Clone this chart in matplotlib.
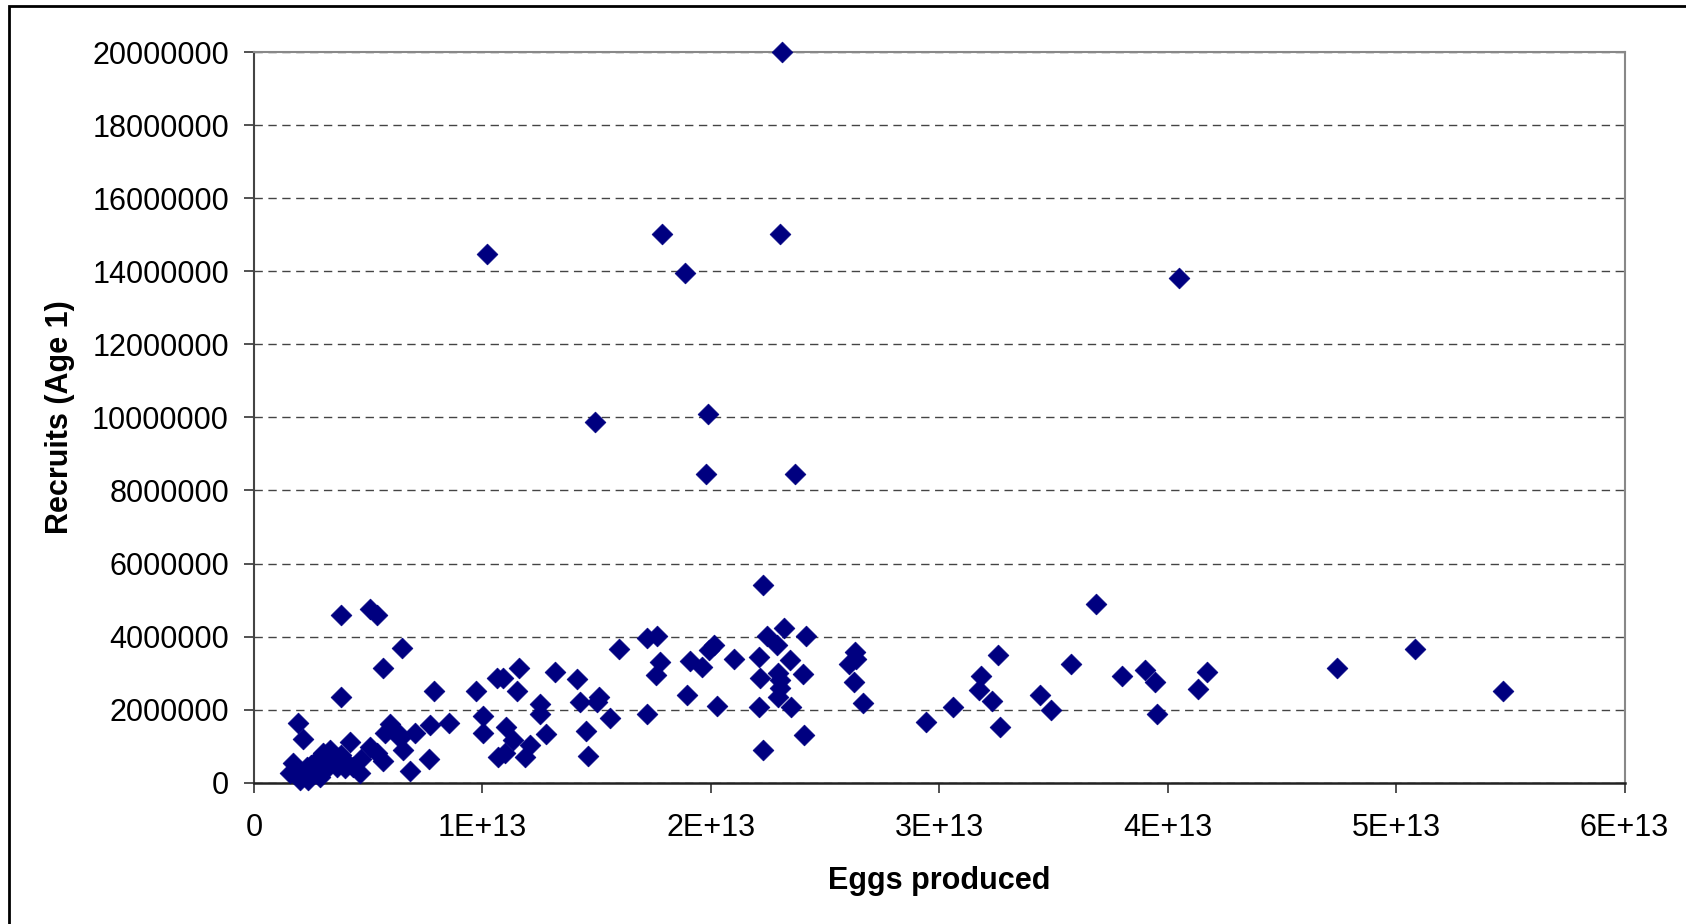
import matplotlib
matplotlib.use('Agg')
import matplotlib.pyplot as plt
from matplotlib.patches import Rectangle
from matplotlib.ticker import FixedLocator, FuncFormatter
import numpy as np

# Eggs produced (units of 1E13) and recruits at age 1 (millions)
eggs_e13 = [
    2.31, 1.022, 1.787, 2.301, 1.885, 4.05, 1.495, 1.986, 1.977, 2.368, 2.228, 3.685,
    0.381, 0.508, 0.537, 0.647, 0.564, 0.381, 0.788, 0.971, 1.063, 1.092, 1.162, 1.318,
    1.413, 1.60, 1.72, 1.153, 1.253, 1.253, 1.428, 1.512, 1.501, 1.559, 1.72, 1.004,
    1.004, 1.104, 1.136, 1.209, 1.187, 1.070, 1.099, 1.279, 1.454, 1.462, 0.854, 0.770,
    0.705, 0.764, 0.681, 0.596, 0.574, 0.64, 0.625, 0.654, 0.566, 0.508, 0.420, 0.464,
    0.40, 0.333, 0.304, 0.191, 0.213,
    0.275, 0.362, 0.231, 0.172, 0.158, 0.20, 0.238, 0.187, 0.26, 0.289, 0.435, 0.537,
    0.406, 0.22, 0.25, 0.31, 0.34, 0.38, 0.47,
    1.764, 1.778, 1.76, 1.910, 1.961, 1.99, 2.012, 1.895, 2.029, 2.102, 2.212, 2.216,
    2.213, 2.228, 2.246, 2.290, 2.319, 2.418, 2.345, 2.292, 2.304, 2.402, 2.301, 2.292,
    2.352, 2.409, 2.632, 2.637, 2.603, 2.625, 2.666, 2.942, 3.059, 3.257, 3.183, 3.173,
    3.231, 3.265, 3.44, 3.490,
    3.576, 3.802, 3.90, 3.943, 3.953, 4.171, 4.131, 4.740, 5.081, 5.467,
]
recruits_m = [
    20.0, 14.46, 15.03, 15.03, 13.94, 13.82, 9.88, 10.09, 8.44, 8.44, 5.41, 4.89,
    4.59, 4.75, 4.59, 3.70, 3.13, 2.36, 2.51, 2.51, 2.88, 2.88, 3.13, 3.04,
    2.83, 3.65, 3.97, 2.51, 2.17, 1.87, 2.20, 2.36, 2.22, 1.78, 1.88, 1.84,
    1.35, 1.53, 1.17, 1.03, 0.71, 0.71, 0.81, 1.33, 1.43, 0.74, 1.63, 1.58,
    1.37, 0.64, 0.33, 1.61, 1.35, 1.22, 1.40, 0.90, 0.60, 0.99, 1.12, 0.26,
    0.40, 0.90, 0.81, 1.63, 1.20,
    0.62, 0.44, 0.44, 0.53, 0.26, 0.08, 0.08, 0.35, 0.26, 0.17, 0.44, 0.81,
    0.53, 0.30, 0.50, 0.35, 0.60, 0.75, 0.65,
    4.02, 3.31, 2.95, 3.34, 3.18, 3.63, 3.77, 2.40, 2.10, 3.39, 3.45, 2.86,
    2.08, 0.90, 4.02, 3.77, 4.23, 4.02, 3.36, 3.01, 2.81, 2.98, 2.59, 2.36,
    2.08, 1.31, 3.59, 3.38, 3.25, 2.77, 2.19, 1.67, 2.08, 3.49, 2.92, 2.54,
    2.25, 1.52, 2.40, 1.99,
    3.24, 2.92, 3.10, 2.77, 1.88, 3.04, 2.56, 3.13, 3.65, 2.51,
]

x_ticks = [0, 1e13, 2e13, 3e13, 4e13, 5e13, 6e13]
x_ticklabels = ['0', '1E+13', '2E+13', '3E+13', '4E+13', '5E+13', '6E+13']
y_ticks = [0, 2e6, 4e6, 6e6, 8e6, 10e6, 12e6, 14e6, 16e6, 18e6, 20e6]

plt.rcParams['font.family'] = ['Liberation Sans', 'DejaVu Sans']

fig = plt.figure(figsize=(16.86, 9.24), dpi=100)
ax = fig.add_axes([254 / 1686, 1 - 782.8 / 924, (1624.5 - 254) / 1686, (782.8 - 52) / 924])

x = np.array(eggs_e13) * 1e13
y = np.array(recruits_m) * 1e6
ax.scatter(x, y, marker='D', s=112, color='#000080', edgecolors='#000080',
           linewidths=0.5, zorder=3, clip_on=False)

ax.set_xlim(0, 6e13)
ax.set_ylim(0, 20e6)
ax.xaxis.set_major_locator(FixedLocator(x_ticks))
ax.set_xticklabels(x_ticklabels)
ax.yaxis.set_major_locator(FixedLocator(y_ticks))
ax.yaxis.set_major_formatter(FuncFormatter(lambda v, p: f'{int(round(v))}'))

ax.tick_params(axis='both', direction='out', length=7, width=1.2,
               colors='#333333', labelcolor='black', labelsize=22)
ax.tick_params(axis='y', pad=11)
ax.tick_params(axis='x', pad=15)

for side in ['top', 'right']:
    ax.spines[side].set_color('#888888')
    ax.spines[side].set_linewidth(1.5)
ax.spines['left'].set_color('#444444')
ax.spines['left'].set_linewidth(1.5)
ax.spines['bottom'].set_color('#222222')
ax.spines['bottom'].set_linewidth(1.8)

ax.yaxis.grid(True, linestyle=(0, (6, 4)), color='#444444', linewidth=1.0)
ax.set_axisbelow(True)

ax.set_xlabel('Eggs produced', fontsize=22, fontweight='bold', labelpad=16)
ax.set_ylabel('Recruits (Age 1)', fontsize=22, fontweight='bold', labelpad=12)

# outer chart border (runs off the right and bottom edges)
fig.add_artist(Rectangle((9 / 1686, -0.1), 1.2, 1 - 6 / 924 + 0.1,
                         transform=fig.transFigure, fill=False,
                         edgecolor='black', linewidth=2))

plt.savefig('out.png', dpi=100)
